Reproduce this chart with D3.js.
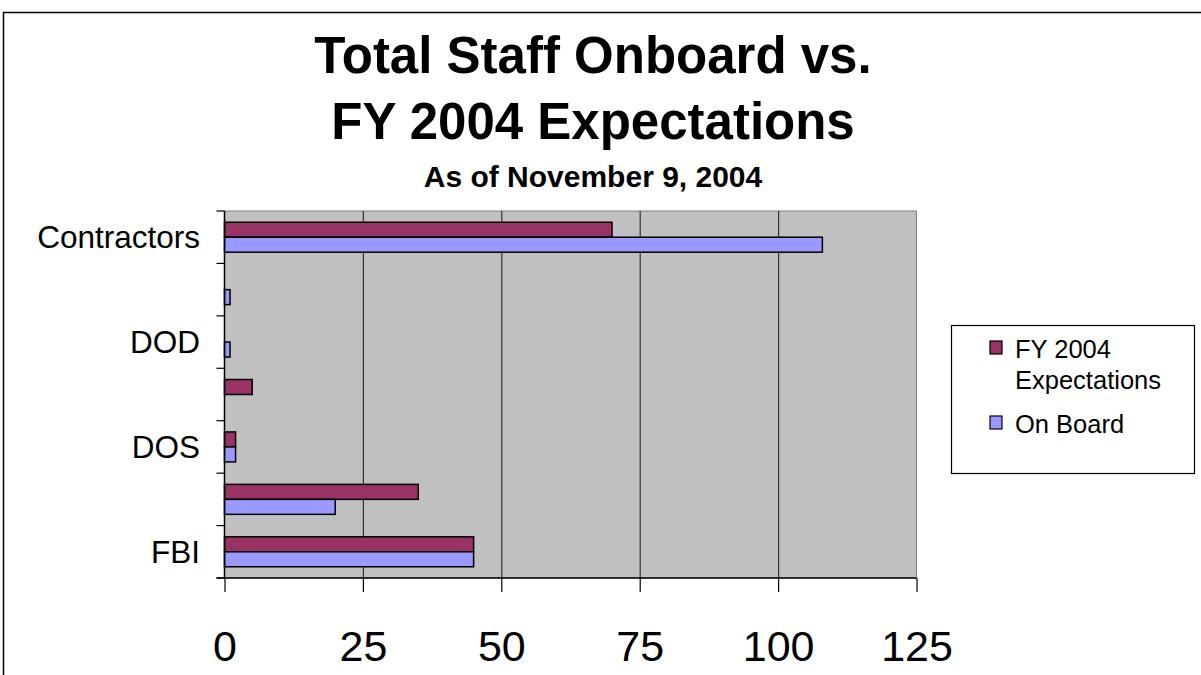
<!DOCTYPE html>
<html>
<head>
<meta charset="utf-8">
<script src="https://cdn.jsdelivr.net/npm/d3@7"></script>
<style>
    body { margin: 0; background: #fff; }
    svg { display: block; font-family: Arial, 'Liberation Sans', sans-serif; }
</style>
</head>
<body>
<div id="chart"></div>
<script>
// categories from top to bottom, only every other one gets a label in the source
const categories = ['Contractors', 'cat6', 'DOD', 'cat4', 'DOS', 'cat2', 'FBI'];
const tickLabels = ['Contractors', '', 'DOD', '', 'DOS', '', 'FBI'];
const seriesNames = ['FY 2004 Expectations', 'On Board'];
const expectations = [70, 0, 0, 5, 2, 35, 45];
const onBoard = [108, 1, 1, 0, 2, 20, 45];
const xTicks = [0, 25, 50, 75, 100, 125];
const colors = ['#993366', '#9999FF'];

const width = 1201,
      height = 675,
      margin = {left: 224.5, right: 284.5, top: 211, bottom: 97};

const svg = d3.select('#chart')
                .append('svg')
                .attr('width', width)
                .attr('height', height);

// outer chart frame
svg.append('path')
    .attr('d', 'M3.5,' + height + ' V12.5 H' + width)
    .attr('fill', 'none')
    .attr('stroke', '#000')
    .attr('stroke-width', 1.5);

const xAxis = d3.scaleLinear()
                .domain([0, 125])
                .range([margin.left, width - margin.right]);

const yAxis = d3.scaleBand()
                .domain(categories)
                .range([margin.top, height - margin.bottom])
                .padding(0);

const innerY = d3.scaleBand()
                .domain(seriesNames)
                .range([0, yAxis.bandwidth()])
                .paddingInner(0)
                .paddingOuter(0.75);

// plot area
svg.append('rect')
    .attr('x', xAxis(0))
    .attr('y', margin.top)
    .attr('width', xAxis(125) - xAxis(0))
    .attr('height', height - margin.bottom - margin.top)
    .attr('fill', '#C0C0C0')
    .attr('stroke', '#808080')
    .attr('stroke-width', 1);

// vertical gridlines
svg.append('g')
    .attr('class', 'grid')
    .attr('transform', 'translate(0,' + margin.top + ')')
    .call(d3.axisTop(xAxis).tickValues(xTicks.slice(1, -1))
            .tickSize(-(height - margin.bottom - margin.top)).tickFormat(''))
    .call(g => g.select('.domain').remove())
    .selectAll('line')
    .attr('stroke', '#333')
    .attr('stroke-width', 1.2);

const rows = categories.map((c, i) => ({label: c, values: [expectations[i], onBoard[i]]}));

const groups = svg.selectAll('.bar-group')
                    .data(rows)
                    .enter()
                    .append('g')
                    .attr('class', 'bar-group')
                    .attr('transform', d => 'translate(0,' + yAxis(d.label) + ')');

groups.selectAll('.bar-rect')
    .data(d => d.values.map((v, j) => ({series: seriesNames[j], value: v, idx: j})))
    .enter()
    .filter(d => d.value > 0)
    .append('rect')
    .attr('class', 'bar-rect')
    .attr('x', xAxis(0))
    .attr('y', d => innerY(d.series))
    .attr('width', d => xAxis(d.value) - xAxis(0))
    .attr('height', innerY.bandwidth())
    .attr('fill', d => colors[d.idx])
    .attr('stroke', '#000')
    .attr('stroke-width', 1.5);

// y axis with ticks on band edges
const yEdges = categories.map(c => yAxis(c)).concat([yAxis.range()[1]]);
const yG = svg.append('g').attr('class', 'y-axis');
yG.append('line')
    .attr('x1', xAxis(0)).attr('x2', xAxis(0))
    .attr('y1', margin.top).attr('y2', height - margin.bottom)
    .attr('stroke', '#000').attr('stroke-width', 1.5);
yG.selectAll('.y-tick')
    .data(yEdges)
    .enter()
    .append('line')
    .attr('x1', xAxis(0) - 8).attr('x2', xAxis(0))
    .attr('y1', d => d).attr('y2', d => d)
    .attr('stroke', '#000').attr('stroke-width', 1.2);
yG.selectAll('.bar-label')
    .data(categories)
    .enter()
    .append('text')
    .attr('class', 'bar-label')
    .attr('x', 200)
    .attr('y', d => yAxis(d) + yAxis.bandwidth() / 2)
    .attr('dy', '0.35em')
    .attr('text-anchor', 'end')
    .attr('font-size', '31.5px')
    .attr('fill', '#000')
    .text((d, i) => tickLabels[i]);

// x axis
const xG = svg.append('g')
                .attr('class', 'x-axis')
                .attr('transform', 'translate(0,' + (height - margin.bottom) + ')')
                .call(d3.axisBottom(xAxis).tickValues(xTicks).tickSize(14).tickPadding(38).tickSizeOuter(0));
xG.select('.domain')
    .attr('d', 'M' + (xAxis(0) - 8) + ',0H' + xAxis(125))
    .attr('stroke', '#000').attr('stroke-width', 1.5);
xG.selectAll('line').attr('stroke', '#000').attr('stroke-width', 1.2);
xG.selectAll('text')
    .attr('font-size', '43px')
    .attr('font-family', 'Arial, Liberation Sans, sans-serif')
    .attr('fill', '#000');

// titles
svg.append('text')
    .attr('x', 593).attr('y', 73)
    .attr('text-anchor', 'middle')
    .attr('font-size', '51px').attr('font-weight', 'bold')
    .text('Total Staff Onboard vs.');
svg.append('text')
    .attr('x', 593).attr('y', 139)
    .attr('text-anchor', 'middle')
    .attr('font-size', '51px').attr('font-weight', 'bold')
    .text('FY 2004 Expectations');
svg.append('text')
    .attr('x', 593).attr('y', 187)
    .attr('text-anchor', 'middle')
    .attr('font-size', '30px').attr('font-weight', 'bold')
    .text('As of November 9, 2004');

// legend
const legend = svg.append('g').attr('class', 'legend');
legend.append('rect')
    .attr('x', 951.5).attr('y', 325.5)
    .attr('width', 243).attr('height', 148)
    .attr('fill', '#fff').attr('stroke', '#000').attr('stroke-width', 1.2);

const legendItems = [
    {lines: ['FY 2004', 'Expectations'], y: 341, color: colors[0]},
    {lines: ['On Board'], y: 416, color: colors[1]}
];
const items = legend.selectAll('.legend-item')
                .data(legendItems)
                .enter()
                .append('g')
                .attr('class', 'legend-item');
items.append('rect')
    .attr('x', 990).attr('y', d => d.y)
    .attr('width', 12).attr('height', 13)
    .attr('fill', d => d.color)
    .attr('stroke', '#000').attr('stroke-width', 1.2);
items.each(function(d) {
    const t = d3.select(this).append('text')
                .attr('x', 1015).attr('y', d.y + 17)
                .attr('font-size', '25.5px').attr('fill', '#000');
    d.lines.forEach((l, i) => {
        t.append('tspan').attr('x', 1015).attr('dy', i === 0 ? 0 : 31).text(l);
    });
});
</script>
</body>
</html>
